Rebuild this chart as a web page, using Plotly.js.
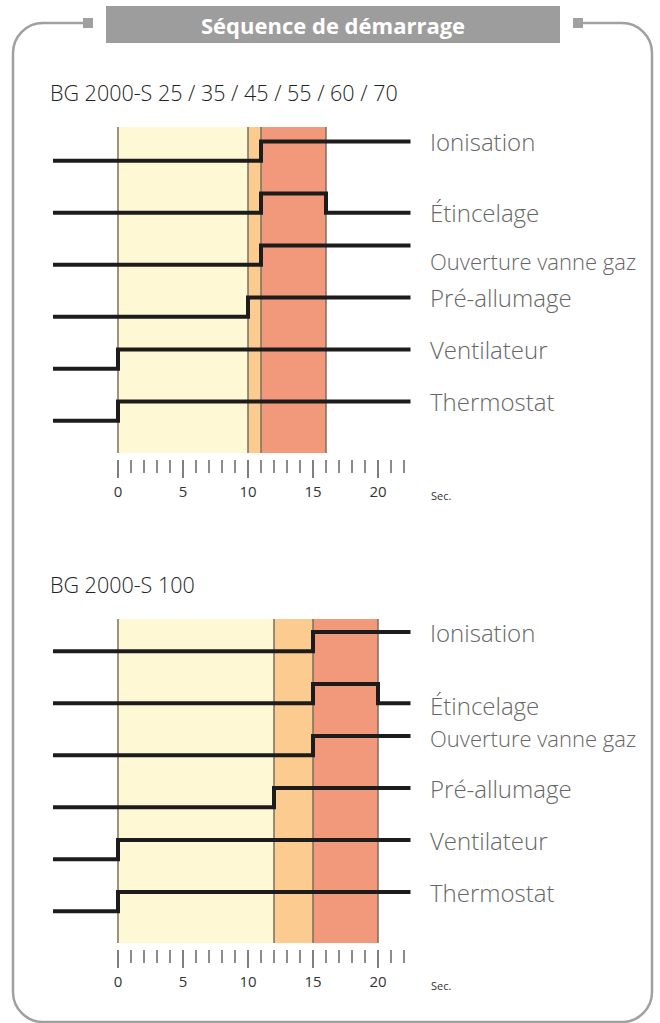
<!DOCTYPE html>
<html>
<head>
<meta charset="utf-8">
<script src="https://cdn.plot.ly/plotly-3.0.1.min.js"></script>
<style>
html,body{margin:0;padding:0;background:#fff;}
#chart{width:660px;height:1023px;}
</style>
</head>
<body>
<div id="chart"></div>
<script>
// ---------- DATA ----------
const headerTitle = "Séquence de démarrage";
const chartTitles = ["BG 2000-S 25 / 35 / 45 / 55 / 60 / 70", "BG 2000-S 100"];
const signals = ["Ionisation", "Étincelage", "Ouverture vanne gaz", "Pré-allumage", "Ventilateur", "Thermostat"];
// switch-on times (s) per signal, chart 1 and chart 2
const onTimesA = [11, 11, 11, 10, 0, 0];
const offTimesA = [null, 16, null, null, null, null];
const onTimesB = [15, 15, 15, 12, 0, 0];
const offTimesB = [null, 20, null, null, null, null];
// phase boundaries (s)
const phasesA = [0, 10, 11, 16];
const phasesB = [0, 12, 15, 20];
// timeline extent (s)
const timeStart = -5;
const timeEnd = 22.5;
// axis ticks
const majorTicks = [0, 5, 10, 15, 20];
const majorTickText = ["0", "5", "10", "15", "20"];
const minorTicks = [0, 1, 2, 3, 4, 5, 6, 7, 8, 9, 10, 11, 12, 13, 14, 15, 16, 17, 18, 19, 20, 21, 22];
const unitLabel = "Sec.";

// ---------- STYLE / LAYOUT ----------
const W = 660, H = 1023;
const px = (x) => x / W;
const py = (y) => 1 - y / H;
const STEP = 0.37;
const phaseColors = ["#FFF8D5", "#FCCB8F", "#F3997B"];
const boundaryColor = "#7a6f5e";
const lineColor = "#1c1c1c";
const frameColor = "#a0a0a0";
const labelFont = {family: '"Open Sans", sans-serif', size: 24, color: '#666666', weight: 300};
const tickFont = {family: '"Open Sans", sans-serif', size: 15, color: '#333333'};

const charts = [
  {on: onTimesA, off: offTimesA, phases: phasesA, xa: 'x', ya: 'y', xaxis: 'xaxis', yaxis: 'yaxis',
   domain: [py(459), py(127)], range: [-0.7365, 5.648], labelShift: [0, 0, -16, 0, 0, 0],
   title: chartTitles[0], titleY: 92, secY: 495},
  {on: onTimesB, off: offTimesB, phases: phasesB, xa: 'x2', ya: 'y2', xaxis: 'xaxis2', yaxis: 'yaxis2',
   domain: [py(949), py(619)], range: [-0.725, 5.621], labelShift: [0, -2, -2, 0, 0, 0],
   title: chartTitles[1], titleY: 584, secY: 985}
];

const traces = [];
const shapes = [];
const annotations = [];
const layout = {
  width: W, height: H,
  margin: {l: 0, r: 0, t: 0, b: 0},
  paper_bgcolor: '#ffffff', plot_bgcolor: 'rgba(0,0,0,0)',
  showlegend: false,
  shapes: shapes, annotations: annotations
};

charts.forEach((c) => {
  const n = signals.length;
  signals.forEach((name, i) => {
    const level = n - 1 - i;
    const xs = [timeStart, c.on[i]];
    const ys = [level, level + STEP];
    if (c.off[i] !== null) { xs.push(c.off[i]); ys.push(level); }
    xs.push(timeEnd); ys.push(ys[ys.length - 1]);
    traces.push({x: xs, y: ys, xaxis: c.xa, yaxis: c.ya, type: 'scatter', mode: 'lines',
      line: {shape: 'hv', color: lineColor, width: 4}, hoverinfo: 'skip'});
    annotations.push({xref: c.xa, yref: c.ya, x: 23.85, y: ys[ys.length - 1], text: name,
      xanchor: 'left', yanchor: 'middle', showarrow: false, yshift: c.labelShift[i],
      font: i === 2 ? Object.assign({}, labelFont, {size: 22}) : labelFont});
  });
  // phase shading
  for (let k = 0; k < c.phases.length - 1; k++) {
    shapes.push({type: 'rect', xref: c.xa, yref: c.ya + ' domain', x0: c.phases[k], x1: c.phases[k + 1],
      y0: 0.018, y1: 1, fillcolor: phaseColors[k], line: {width: 0}, layer: 'below'});
  }
  c.phases.forEach((b) => {
    shapes.push({type: 'line', xref: c.xa, yref: c.ya + ' domain', x0: b, x1: b, y0: 0.018, y1: 1,
      line: {color: boundaryColor, width: 1.5}, layer: 'below'});
  });
  layout[c.xaxis] = {
    domain: [0, 1], range: [-118 / 13, (W - 118) / 13], anchor: c.ya,
    showgrid: false, zeroline: false, showline: false, fixedrange: true,
    tickmode: 'array', tickvals: majorTicks, ticktext: majorTickText,
    ticks: 'outside', ticklen: 18, tickwidth: 2, tickcolor: '#7f7f7f',
    tickfont: tickFont, ticklabelstandoff: 1,
    minor: {tickmode: 'array', tickvals: minorTicks, ticks: 'outside', ticklen: 13, tickwidth: 1.5,
      tickcolor: '#8c8c8c', showgrid: false}
  };
  layout[c.yaxis] = {domain: c.domain, range: c.range, anchor: c.xa, visible: false, fixedrange: true};
  annotations.push({xref: 'paper', yref: 'paper', x: px(48), y: py(c.titleY), text: c.title,
    xanchor: 'left', yanchor: 'middle', showarrow: false,
    font: {family: '"Open Sans", sans-serif', size: 21.5, color: '#222222', weight: 300}});
  annotations.push({xref: 'paper', yref: 'paper', x: px(429), y: py(c.secY), text: unitLabel,
    xanchor: 'left', yanchor: 'middle', showarrow: false,
    font: {family: '"Open Sans", sans-serif', size: 11, color: '#333333'}});
});

// frame
const R = 30, L = 13, Rt = 652, T = 23, B = 1022, k = 0.5523 * R;
const P = (x, y) => px(x) + ',' + py(y);
const framePath = 'M' + P(93, T) + ' L' + P(L + R, T) +
  ' C' + P(L + R - k, T) + ' ' + P(L, T + R - k) + ' ' + P(L, T + R) +
  ' L' + P(L, B - R) +
  ' C' + P(L, B - R + k) + ' ' + P(L + R - k, B) + ' ' + P(L + R, B) +
  ' L' + P(Rt - R, B) +
  ' C' + P(Rt - R + k, B) + ' ' + P(Rt, B - R + k) + ' ' + P(Rt, B - R) +
  ' L' + P(Rt, T + R) +
  ' C' + P(Rt, T + R - k) + ' ' + P(Rt - R + k, T) + ' ' + P(Rt - R, T) +
  ' L' + P(573, T);
shapes.push({type: 'path', xref: 'paper', yref: 'paper', path: framePath,
  line: {color: frameColor, width: 2.5}, fillcolor: 'rgba(0,0,0,0)'});
shapes.push({type: 'rect', xref: 'paper', yref: 'paper', x0: px(83), x1: px(93), y0: py(28), y1: py(18),
  fillcolor: frameColor, line: {width: 0}});
shapes.push({type: 'rect', xref: 'paper', yref: 'paper', x0: px(573), x1: px(583), y0: py(28), y1: py(18),
  fillcolor: frameColor, line: {width: 0}});
// header
shapes.push({type: 'rect', xref: 'paper', yref: 'paper', x0: px(106), x1: px(560), y0: py(43), y1: py(6),
  fillcolor: '#9d9d9d', line: {width: 0}});
annotations.push({xref: 'paper', yref: 'paper', x: px(333), y: py(25), text: '<b>' + headerTitle + '</b>',
  xanchor: 'center', yanchor: 'middle', showarrow: false,
  font: {family: '"Open Sans", sans-serif', size: 22, color: '#ffffff'}});

Plotly.newPlot('chart', traces, layout, {displayModeBar: false, staticPlot: true});
</script>
</body>
</html>
